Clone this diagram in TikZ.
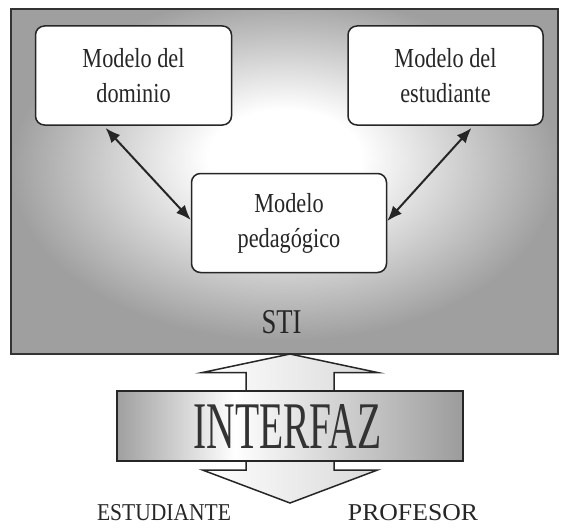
\documentclass[tikz,border=0pt]{standalone}
\usepackage{fontspec}
\usepackage{graphicx}
\setmainfont{Liberation Serif}[FakeStretch=0.81]
\usetikzlibrary{arrows.meta}
% fondos
\pgfdeclareradialshading{stishade}{\pgfpoint{0bp}{4bp}}{color(0bp)=(white); color(7bp)=(white); color(25bp)=(gray!75); color(50bp)=(gray!75)}
\pgfdeclarehorizontalshading{bandshade}{100bp}{color(0bp)=(gray!75); color(25bp)=(gray!75); color(42bp)=(white); color(75bp)=(gray!78); color(100bp)=(gray!78)}
% texto de una linea con ancho y alto de mayusculas dados
\newcommand{\rotulo}[3]{\resizebox{#1}{#2}{#3}}
\begin{document}
\begin{tikzpicture}[x=1pt,y=-1pt,>={Latex[length=15pt,width=12pt]},
  modelo/.style={draw=black!85,line width=1.5pt,fill=white,rounded corners=9pt,
    minimum width=195pt,minimum height=99pt,inner sep=0pt,align=center,
    font=\fontsize{27.5}{35}\selectfont,text=black!85},
  enlace/.style={<->,line width=2pt,draw=black!85,shorten <=3pt},
  rot/.style={inner sep=0pt,text=black!85}]
\useasboundingbox (0,0) rectangle (569,527);
% STI
\node[draw=black!80,line width=2pt,shade,shading=stishade,minimum width=547pt,minimum height=345pt,inner sep=0pt] (sti) at (284.4,181.6) {};
\node[rot] (stilabel) at (281.5,322) {\rotulo{40pt}{23pt}{STI}};
\node[modelo,minimum width=196pt] (dominio) at (133.5,75.5) {Modelo del\\dominio};
\node[modelo] (estudiante) at (445.5,75.5) {Modelo del\\estudiante};
\node[modelo,minimum width=195pt] (pedagogico) at (289,223) {Modelo\\pedag\'ogico};
\draw[enlace] ([xshift=-30pt]dominio.south) -- ([yshift=3pt]pedagogico.west);
\draw[enlace] ([xshift=28pt]estudiante.south) -- ([yshift=2pt]pedagogico.east);
% flecha doble
\draw[black!85,line width=1.5pt,left color=white,right color=gray!30]
  (290,354) -- (377.5,372.5) -- (334,372.5) -- (334,470) -- (377.5,470) -- (290,503)
  -- (202.5,470) -- (246,470) -- (246,372.5) -- (202.5,372.5) -- cycle;
\node[draw=black!85,line width=2pt,shade,shading=bandshade,minimum width=346pt,minimum height=70pt,inner sep=0pt] (interfaz) at (290,426) {};
\node[rot,text=black!80] (interfaztxt) at (287.5,426) {\rotulo{188pt}{44pt}{INTERFAZ}};
\node[rot] (estud) at (164,513) {\rotulo{134pt}{16pt}{ESTUDIANTE}};
\node[rot] (prof) at (413,513) {\rotulo{130pt}{16pt}{PROFESOR}};
\end{tikzpicture}
\end{document}
